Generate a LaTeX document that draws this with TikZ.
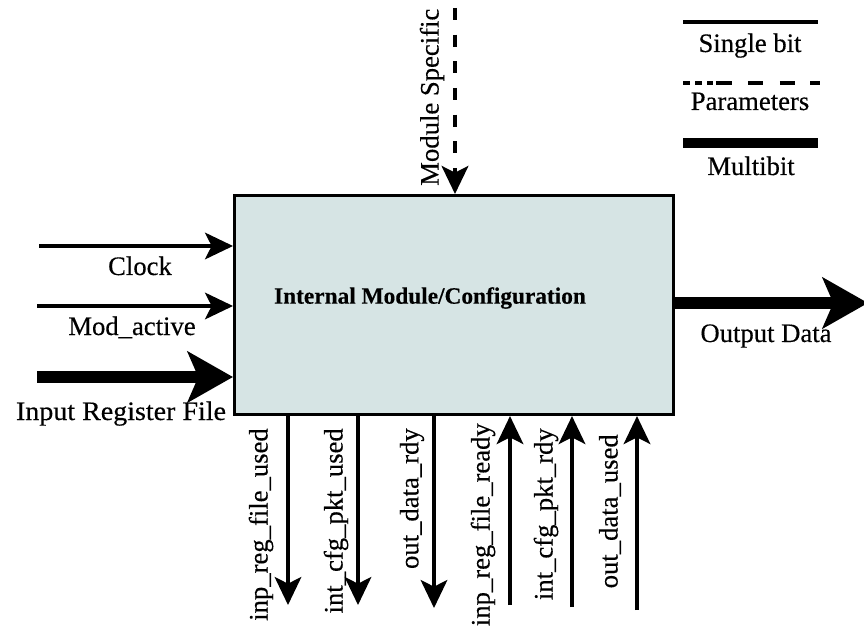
\documentclass[tikz,border=0pt]{standalone}
\usepackage{fontspec}
\setmainfont{Liberation Serif}[FakeBold=0.35]
\usetikzlibrary{arrows.meta}

\definecolor{corefill}{RGB}{214,228,228}

\tikzset{
  lbl/.style={inner sep=0pt, font=\fontsize{20}{24}\selectfont},
  vlbl/.style={lbl, rotate=90, anchor=east},
  thinarr/.style={line width=2.3pt, -{Stealth[length=21pt,width=20pt,inset=5pt]}},
  thickarr/.style={line width=9pt, -{Stealth[length=34pt,width=38pt,inset=8pt]}},
  paramarr/.style={line width=3pt, dash pattern=on 9pt off 11pt, dash phase=-6pt,
                   -{Stealth[length=21pt,width=20pt,inset=5pt]}}
}

\begin{document}
\begin{tikzpicture}[x=0.75pt,y=-0.75pt]
  \useasboundingbox (0,0) rectangle (864,627);

  % central block
  \node[draw, line width=2.3pt, fill=corefill, anchor=north west,
        minimum width=329.25pt, minimum height=164.25pt, inner sep=0pt]
        (core) at (233,194) {};
  \node[inner sep=0pt, font=\fontsize{17.5}{21}\bfseries\selectfont] (coretext) at (430,298)
        {Internal Module/Configuration};

  % inputs on the left
  \coordinate (clkin) at (39,246);
  \coordinate (modin) at (37,306);
  \coordinate (regin) at (37,377);
  \draw[thinarr]  (clkin) -- (clkin -| core.west);
  \draw[thinarr]  (modin) -- (modin -| core.west);
  \draw[thickarr] (regin) -- (regin -| core.west);
  \node[lbl, anchor=base] (clklbl) at (140,275) {Clock};
  \node[lbl, anchor=base] (modlbl) at (132,335) {Mod\_active};
  \node[lbl, anchor=base, xscale=1.05] (reglbl) at (121,420) {Input Register File};

  % parameter input from above
  \coordinate (parin) at (455,0);
  \draw[paramarr] (parin) -- (parin |- core.north);
  \node[lbl, rotate=90, anchor=west] (parlbl) at (432,186) {Module Specific};

  % output on the right
  \coordinate (outend) at (868,303);
  \draw[thickarr] (outend -| core.east) -- (outend);
  \node[lbl, anchor=base] (outlbl) at (766,342) {Output Data};

  % handshake signals below the block
  \coordinate (s1) at (288,605);
  \coordinate (s2) at (358,605);
  \coordinate (s3) at (434,608);
  \coordinate (s4) at (510,605);
  \coordinate (s5) at (572,607);
  \coordinate (s6) at (637,610);
  \draw[thinarr] (s1 |- core.south) -- (s1);
  \draw[thinarr] (s2 |- core.south) -- (s2);
  \draw[thinarr] (s3 |- core.south) -- (s3);
  \draw[thinarr] (s4) -- (s4 |- core.south);
  \draw[thinarr] (s5) -- (s5 |- core.south);
  \draw[thinarr] (s6) -- (s6 |- core.south);
  \node[vlbl] (l1) at (261,428) {inp\_reg\_file\_used};
  \node[vlbl] (l2) at (336,428) {int\_cfg\_pkt\_used};
  \node[vlbl] (l3) at (412,428) {out\_data\_rdy};
  \node[vlbl] (l4) at (483,423) {inp\_reg\_file\_ready};
  \node[vlbl] (l5) at (546,428) {int\_cfg\_pkt\_rdy};
  \node[vlbl] (l6) at (610,434) {out\_data\_used};

  % legend
  \coordinate (k1a) at (683,22);  \coordinate (k1b) at (818,22);
  \coordinate (k2a) at (683,83);  \coordinate (k2b) at (820,83);
  \coordinate (k3a) at (683,143); \coordinate (k3b) at (818,143);
  \draw[line width=2.3pt] (k1a) -- (k1b);
  \draw[line width=2.3pt, dash pattern=on 5.2pt off 3.8pt on 5.2pt off 3.8pt on 4.5pt off 2.2pt
        on 12pt off 12pt on 11.3pt off 12.7pt on 11.3pt off 11.3pt on 7.5pt off 20pt] (k2a) -- (k2b);
  \draw[line width=8pt] (k3a) -- (k3b);
  \node[lbl, anchor=base] (k1lbl) at (750,52)  {Single bit};
  \node[lbl, anchor=base] (k2lbl) at (750,110) {Parameters};
  \node[lbl, anchor=base] (k3lbl) at (751,175) {Multibit};
\end{tikzpicture}
\end{document}
